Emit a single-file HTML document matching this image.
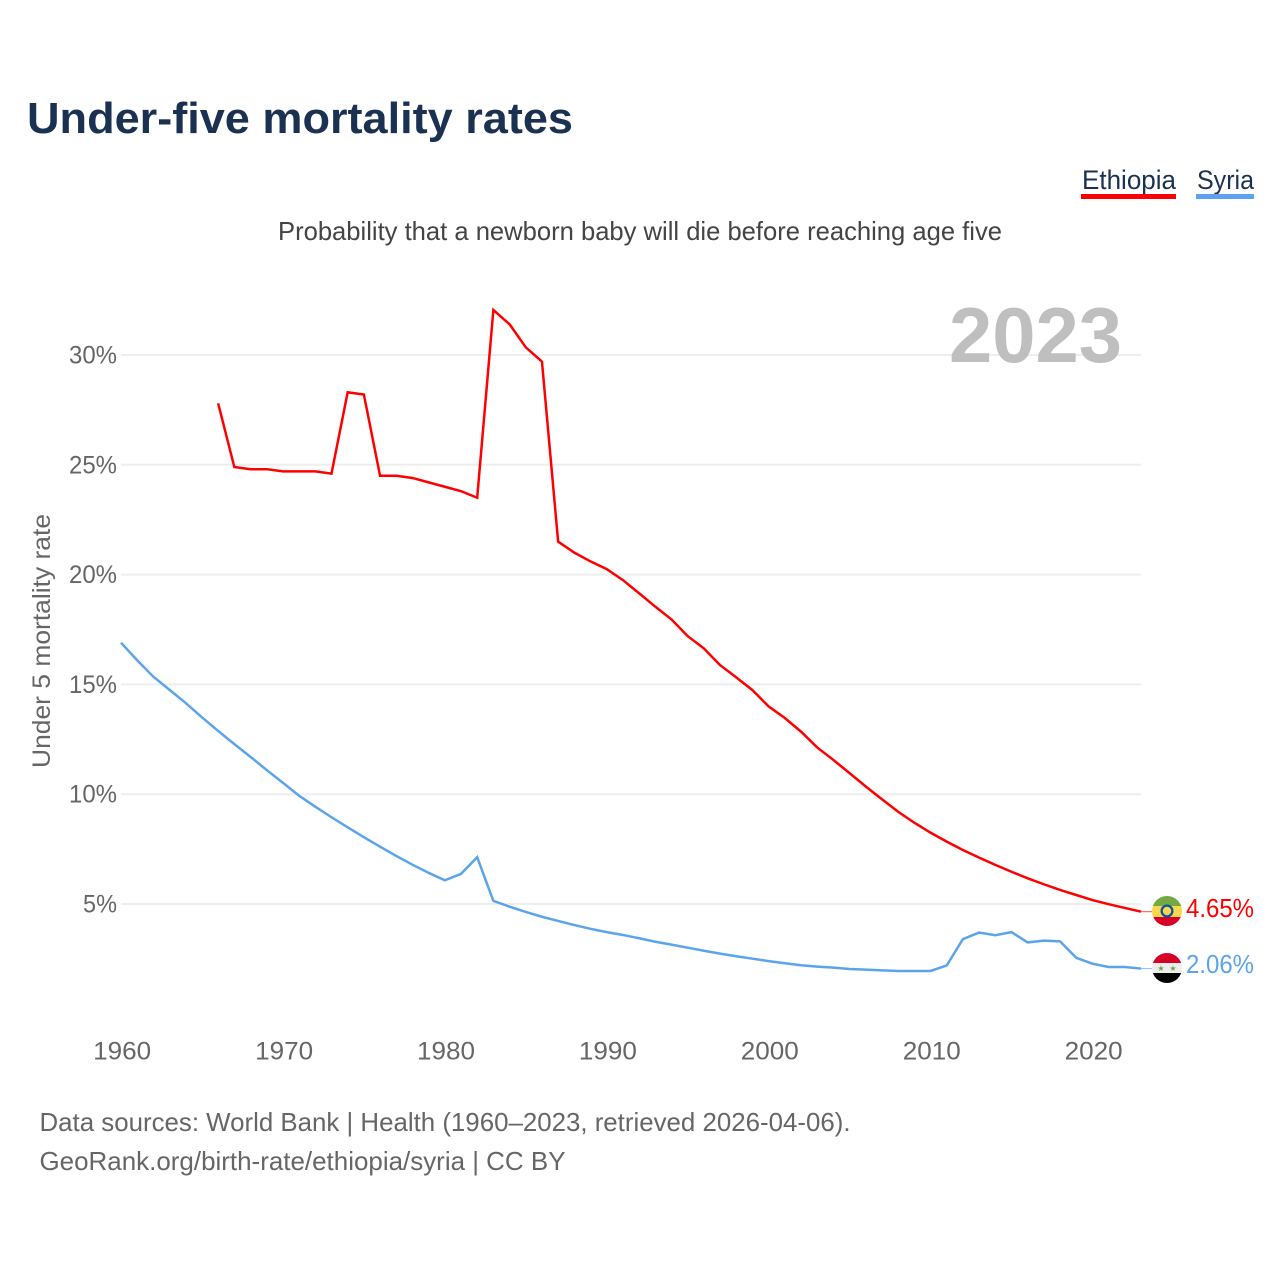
<!DOCTYPE html>
<html lang="en">
<head>
<meta charset="utf-8">
<title>Under-five mortality rates</title>
<style>
html,body{margin:0;padding:0;background:#fff;width:1280px;height:1280px;overflow:hidden}
svg{display:block;font-family:"Liberation Sans",Arial,sans-serif}
</style>
</head>
<body>
<svg id="chart" xmlns="http://www.w3.org/2000/svg" width="1280" height="1280" viewBox="0 0 1280 1280">
  <rect width="1280" height="1280" fill="#fff"/>
  <text x="27" y="133" font-size="44" font-weight="700" fill="#1a3152" textLength="546" lengthAdjust="spacingAndGlyphs">Under-five mortality rates</text>
  <g>
    <text x="1082" y="189" font-size="27" fill="#1a3152" textLength="94" lengthAdjust="spacingAndGlyphs">Ethiopia</text>
    <rect x="1081" y="194" width="95" height="5" fill="#ff0000"/>
  </g>
  <g>
    <text x="1197" y="189" font-size="27" fill="#1a3152" textLength="57" lengthAdjust="spacingAndGlyphs">Syria</text>
    <rect x="1196" y="194" width="58" height="5" fill="#5ba4ec"/>
  </g>
  <text x="278" y="240" font-size="26" fill="#444" textLength="724" lengthAdjust="spacingAndGlyphs">Probability that a newborn baby will die before reaching age five</text>
  <g id="grid"></g>
  <g id="yaxis"></g>
  <g id="xaxis"></g>
  <text transform="translate(50,641) rotate(-90)" text-anchor="middle" font-size="25" fill="#666" textLength="254" lengthAdjust="spacingAndGlyphs">Under 5 mortality rate</text>
  <text x="949" y="362" font-size="78" font-weight="700" fill="#bfbfbf" textLength="173" lengthAdjust="spacingAndGlyphs">2023</text>
  <g id="series"></g>
  <defs>
    <clipPath id="clip-eth"><circle cx="1167" cy="911" r="15"/></clipPath>
    <clipPath id="clip-syr"><circle cx="1167" cy="968" r="15"/></clipPath>
  </defs>
  <g clip-path="url(#clip-eth)">
    <rect x="1152" y="896" width="30" height="10" fill="#75a843"/>
    <rect x="1152" y="906" width="30" height="11" fill="#f5d94a"/>
    <rect x="1152" y="917" width="30" height="10" fill="#d80027"/>
    <circle cx="1167" cy="911" r="6.5" fill="#0f4fa8"/>
    <circle cx="1167" cy="911" r="4.2" fill="#f5d94a"/>
  </g>
  <g clip-path="url(#clip-syr)">
    <rect x="1152" y="953" width="30" height="10" fill="#d80027"/>
    <rect x="1152" y="963" width="30" height="10" fill="#eeeeee"/>
    <rect x="1152" y="973" width="30" height="10" fill="#000"/>
    <text x="1161" y="971" font-size="8" text-anchor="middle" fill="#6da544">★</text>
    <text x="1173" y="971" font-size="8" text-anchor="middle" fill="#6da544">★</text>
  </g>
  <text x="1186" y="917" font-size="26" fill="#ff0000" textLength="68" lengthAdjust="spacingAndGlyphs">4.65%</text>
  <text x="1186" y="973" font-size="26" fill="#5ba4ec" textLength="68" lengthAdjust="spacingAndGlyphs">2.06%</text>
  <text x="39.5" y="1131" font-size="26" fill="#666" textLength="811" lengthAdjust="spacingAndGlyphs">Data sources: World Bank | Health (1960–2023, retrieved 2026-04-06).</text>
  <text x="39.5" y="1170" font-size="26" fill="#666" textLength="526" lengthAdjust="spacingAndGlyphs">GeoRank.org/birth-rate/ethiopia/syria | CC BY</text>
</svg>
<script>
const yTicks = [5, 10, 15, 20, 25, 30];
const xTicks = [1960, 1970, 1980, 1990, 2000, 2010, 2020];
const ethiopiaStartYear = 1966;
const syriaStartYear = 1960;
const ethiopiaValues = [27.8, 24.9, 24.8, 24.8, 24.7, 24.7, 24.7, 24.6, 28.3, 28.2, 24.5, 24.5, 24.4, 24.2, 24.0, 23.8, 23.5, 32.05, 31.4, 30.35, 29.7, 21.5, 21.0, 20.6, 20.25, 19.75, 19.15, 18.54, 17.96, 17.2, 16.64, 15.88, 15.32, 14.74, 14.0, 13.47, 12.85, 12.13, 11.56, 10.96, 10.35, 9.77, 9.2, 8.7, 8.25, 7.84, 7.46, 7.11, 6.78, 6.47, 6.17, 5.9, 5.64, 5.41, 5.18, 4.99, 4.82, 4.65];
const syriaValues = [16.9, 16.1, 15.35, 14.75, 14.15, 13.5, 12.88, 12.28, 11.7, 11.1, 10.52, 9.93, 9.43, 8.95, 8.49, 8.04, 7.61, 7.19, 6.79, 6.42, 6.08, 6.37, 7.13, 5.14, 4.88, 4.64, 4.42, 4.23, 4.04, 3.87, 3.72, 3.59, 3.44, 3.28, 3.15, 3.01, 2.87, 2.74, 2.62, 2.51, 2.4, 2.3, 2.21, 2.15, 2.1, 2.04, 2.01, 1.98, 1.95, 1.95, 1.95, 2.2, 3.4, 3.7, 3.58, 3.72, 3.25, 3.33, 3.3, 2.55, 2.28, 2.13, 2.13, 2.06];

const NS = 'http://www.w3.org/2000/svg';
function xScale(year) { return 121 + (year - 1960) * (1020 / 63); }
function yScale(v) { return 1013.8 - v * 21.96; }
function make(tag, attrs, parent) {
  const el = document.createElementNS(NS, tag);
  for (const k in attrs) el.setAttribute(k, attrs[k]);
  parent.appendChild(el);
  return el;
}
const grid = document.getElementById('grid');
const yaxis = document.getElementById('yaxis');
const xaxis = document.getElementById('xaxis');
const series = document.getElementById('series');

yTicks.forEach(function (t) {
  const line = make('line', { x1: 121, x2: 1141, y1: yScale(t), y2: yScale(t), stroke: '#eeeeee', 'stroke-width': 2 }, grid);
  
  
  const label = make('text', { x: 117, y: yScale(t) + 8.5, 'text-anchor': 'end', 'font-size': 25, fill: '#666', textLength: t < 10 ? 34 : 48, lengthAdjust: 'spacingAndGlyphs' }, yaxis);
  
  
  label.textContent = t + '%';
});
xTicks.forEach(function (t) {
  const label = make('text', { x: xScale(t) + 1.2, y: 1059.5, 'text-anchor': 'middle', 'font-size': 25, fill: '#666', textLength: 58, lengthAdjust: 'spacingAndGlyphs' }, xaxis);
  
  
  label.textContent = t;
});
function pathFor(values, startYear) {
  return values.map(function (v, i) {
    return (i ? 'L' : 'M') + xScale(startYear + i).toFixed(2) + ' ' + yScale(v).toFixed(2);
  }).join(' ');
}
const ethLine = make('path', { d: pathFor(ethiopiaValues, ethiopiaStartYear), fill: 'none', stroke: '#ff0000', 'stroke-width': 2.5, 'stroke-linejoin': 'miter' }, series);


const syrLine = make('path', { d: pathFor(syriaValues, syriaStartYear), fill: 'none', stroke: '#5ba4ec', 'stroke-width': 2.5, 'stroke-linejoin': 'miter' }, series);


const ethLast = ethiopiaValues[ethiopiaValues.length - 1];
const syrLast = syriaValues[syriaValues.length - 1];
const ethLink = make('line', { x1: xScale(2023), x2: 1152, y1: yScale(ethLast), y2: yScale(ethLast), stroke: '#ff0000', 'stroke-width': 1, opacity: 0.7 }, series);


const syrLink = make('line', { x1: xScale(2023), x2: 1152, y1: yScale(syrLast), y2: yScale(syrLast), stroke: '#5ba4ec', 'stroke-width': 1, opacity: 0.7 }, series);


</script>
</body>
</html>
